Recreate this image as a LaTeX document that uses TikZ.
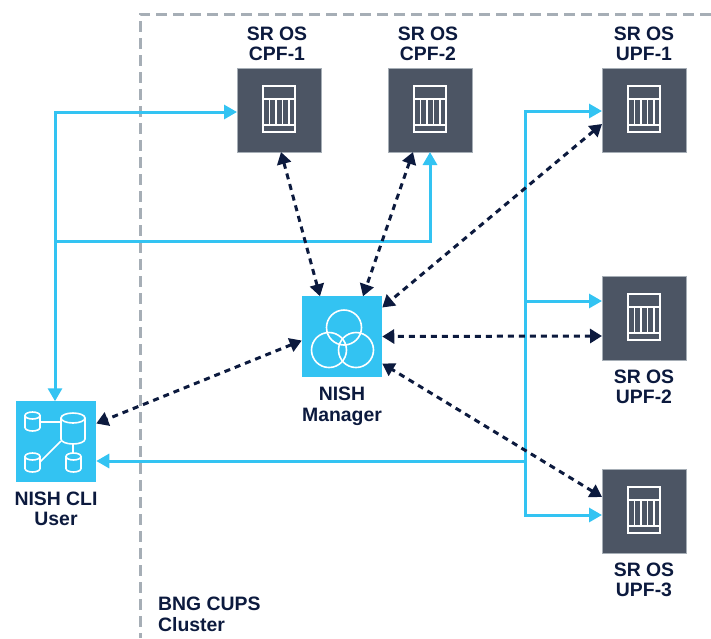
\documentclass[tikz,border=0pt]{standalone}
\usepackage{fontspec}
\setmainfont{Liberation Sans}
\usepackage{xcolor}
\usetikzlibrary{arrows.meta,positioning}

\definecolor{nokiablue}{HTML}{33C3F2}
\definecolor{darkbox}{HTML}{4C5564}
\definecolor{navyline}{HTML}{0C1A3E}
\definecolor{clustergray}{HTML}{A6AEB6}

\tikzset{
  srbox/.style={rectangle, draw=clustergray, line width=0.5pt, fill=darkbox, minimum width=84pt, minimum height=84pt, inner sep=0pt, outer sep=0pt},
  bluebox/.style={rectangle, fill=nokiablue, minimum width=80.5pt, minimum height=80.5pt, inner sep=0pt, outer sep=0pt},
  boxlabel/.style={font=\fontsize{19.4}{20.5}\selectfont\bfseries, text=navyline, align=center, inner sep=0pt},
  iconline/.style={draw=white, line width=1.6pt},
  bluelink/.style={draw=nokiablue, line width=3pt, -{Triangle[length=13pt,width=14pt]}},
  bluelinkboth/.style={draw=nokiablue, line width=3pt, {Triangle[length=13pt,width=14pt]}-{Triangle[length=13pt,width=14pt]}},
  mgmtlink/.style={draw=navyline, line width=3pt, dash pattern=on 6pt off 5pt, {Triangle[length=12pt,width=14pt]}-{Triangle[length=12pt,width=14pt]}},
  rackicon/.pic={
    \draw[iconline] (-16,-24) rectangle (16,22);
    \draw[iconline] (-16,-11) -- (16,-11);
    \draw[iconline] (-16,15) -- (16,15);
    \foreach \xpos in {-9.7,-3,3.3,10}
      \draw[iconline] (\xpos,-11) -- (\xpos,15);
  }
}

% x, y of top left corner, width, height, radii of the lid
\newcommand{\dbcyl}[6]{
  \draw[iconline] ({#1},{#2+#6}) -- ({#1},{#2+#4-#6}) arc[start angle=180, end angle=360, x radius=#5pt, y radius=#6pt] -- ({#1+#3},{#2+#6});
  \draw[iconline] ({#1+#3/2},{#2+#6}) ellipse (#5pt and #6pt);
}

\begin{document}
\begin{tikzpicture}[x=1pt,y=-1pt]

    \useasboundingbox (0,0) rectangle (711,638);

    % Cluster
    \draw[clustergray, line width=3pt, dash pattern=on 11pt off 6pt] (711,14) -- (140,14) -- (140,638);
    \node[boxlabel, align=left, anchor=north west] (clusterlabel) at (158,597) {BNG CUPS\\Cluster};

    % Nodes
    \node[srbox] (cpf1) at (279,110) {};
    \node[srbox] (cpf2) at (430,110) {};
    \node[srbox] (upf1) at (644,110) {};
    \node[srbox] (upf2) at (644,318) {};
    \node[srbox] (upf3) at (644,511) {};
    \node[bluebox] (manager) at (342,336.5) {};
    \node[bluebox] (cli) at (56,441.5) {};

    % Labels
    \node[boxlabel, above=7pt of cpf1, xshift=-2pt] (cpf1label) {SR OS\\CPF-1};
    \node[boxlabel, above=7pt of cpf2, xshift=-2pt] (cpf2label) {SR OS\\CPF-2};
    \node[boxlabel, above=7pt of upf1] (upf1label) {SR OS\\UPF-1};
    \node[boxlabel, below=9.5pt of upf2] (upf2label) {SR OS\\UPF-2};
    \node[boxlabel, below=9.5pt of upf3] (upf3label) {SR OS\\UPF-3};
    \node[boxlabel, below=10pt of manager] (managerlabel) {NISH\\Manager};
    \node[boxlabel, below=9.5pt of cli] (clilabel) {NISH CLI\\User};

    % Icons
    \pic at (cpf1) {rackicon};
    \pic at (cpf2) {rackicon};
    \pic at (upf1) {rackicon};
    \pic at (upf2) {rackicon};
    \pic at (upf3) {rackicon};

    \draw[iconline] (344,327.5) circle (17.5pt);
    \draw[iconline] (329,350) circle (17.5pt);
    \draw[iconline] (356,350) circle (17.5pt);

    \dbcyl{61}{413}{24}{31}{12}{5}
    \dbcyl{25}{412}{15}{19}{7.5}{3.5}
    \dbcyl{25}{453}{15}{19}{7.5}{3.5}
    \dbcyl{66}{453}{15}{19}{7.5}{3.5}
    \draw[iconline] (40,422) -- (61,422);
    \draw[iconline] (61,441) -- (40,462);
    \draw[iconline] (73,444) -- (73,453);

    % Blue links
    \coordinate (tapleft) at (55,241);
    \coordinate (tapright) at (525,461);

    \draw[bluelinkboth] ([xshift=-1pt]cli.north) |- ([yshift=-2pt]cpf1.west);
    \draw[bluelink] (tapleft) -| (cpf2.south);
    \draw[bluelink] (tapright) -- ([yshift=-19.5pt]cli.east);
    \draw[bluelink] (tapright) |- ([yshift=-1pt]upf1.west);
    \draw[bluelink] (tapright) |- ([yshift=17pt]upf2.west);
    \draw[bluelink] (tapright) |- ([yshift=-4pt]upf3.west);

    % Manager links
    \draw[mgmtlink] ([xshift=2pt]cpf1.south) -- ([xshift=-22pt]manager.north);
    \draw[mgmtlink] ([xshift=-17pt]cpf2.south) -- ([xshift=21pt]manager.north);
    \draw[mgmtlink] ([yshift=-14pt]upf1.west) -- ([yshift=29pt]manager.east);
    \draw[mgmtlink] ([yshift=-18pt]upf2.west) -- (manager.east);
    \draw[mgmtlink] ([yshift=14pt]upf3.west) -- ([yshift=-27pt]manager.east);
    \draw[mgmtlink] ([yshift=-4pt]manager.west) -- ([yshift=18pt]cli.east);

\end{tikzpicture}
\end{document}
